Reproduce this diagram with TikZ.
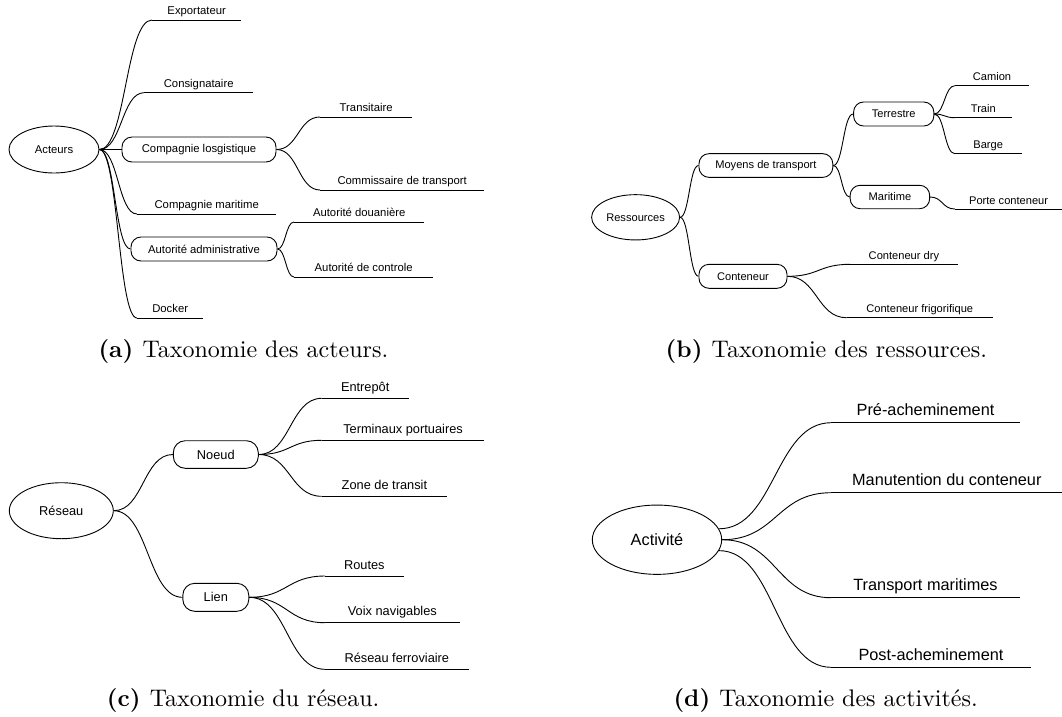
\documentclass[tikz,border=0pt]{standalone}
\usepackage{fontspec}
\newfontfamily\arial{Liberation Sans}
\newfontfamily\capfont[BoldFont=lmroman10-bold.otf]{lmroman10-regular.otf}
\usetikzlibrary{shapes.geometric,calc}
\begin{document}
\begin{tikzpicture}[x=1pt,y=-1pt,
  ln/.style={line width=0.9pt, draw=black},
  ell/.style={ellipse, draw, line width=0.9pt, inner sep=0pt},
  box/.style={draw, rounded corners=10pt, line width=0.9pt, inner sep=0pt},
  leaf/.style={anchor=south west, inner sep=0pt, text depth=#1},
  conn/.style={ln, to path={.. controls ($(\tikztostart)!0.5!(\tikztotarget|-\tikztostart)$) and ($(\tikztotarget)!0.5!(\tikztostart|-\tikztotarget)$) .. (\tikztotarget)}},
  fa/.style={font=\arial\fontsize{11.3}{13}\selectfont},
  fb/.style={font=\arial\fontsize{11.1}{13}\selectfont},
  fc/.style={font=\arial\fontsize{12.8}{15}\selectfont},
  fd/.style={font=\arial\fontsize{16.3}{19}\selectfont},
  capt/.style={anchor=base west, inner sep=0pt, font=\capfont\fontsize{24}{28}\selectfont}
]
\path[fill=white] (0,0) rectangle (1062,716);
\useasboundingbox (0,0) rectangle (1062,716);

% ---------- (a) Acteurs ----------
\begin{scope}[fa]
\node[ell, minimum width=90pt, minimum height=47pt] (act) at (54,149.5) {Acteurs};
\node[box, minimum width=154pt, minimum height=25pt] (cl) at (199,149.5) {Compagnie losgistique};
\node[box, minimum width=146pt, minimum height=24pt] (aa) at (204,249) {Autorité administrative};
\node[leaf=5pt, minimum width=89pt] (exp) at (152,20) {Exportateur};
\node[leaf=5pt, minimum width=109pt] (cons) at (144,92.7) {Consignataire};
\node[leaf=5pt, minimum width=92pt] (tra) at (320,117) {Transitaire};
\node[leaf=5pt, minimum width=164pt] (com) at (320,190) {Commissaire de transport};
\node[leaf=5pt, minimum width=139pt] (cm) at (137,214) {Compagnie maritime};
\node[leaf=5pt, minimum width=130pt] (ad) at (294,222) {Autorité douanière};
\node[leaf=5pt, minimum width=139pt] (ac) at (294,277) {Autorité de controle};
\node[leaf=5pt, minimum width=66pt] (dock) at (137,318) {Docker};
\end{scope}
\draw[conn] (act.east) to (exp.south west);
\draw[conn] (act.east) to (cons.south west);
\draw[conn] (act.east) to (cl.west);
\draw[conn] (act.east) to (cm.south west);
\draw[conn] (act.east) to (aa.west);
\draw[conn] (act.east) to (dock.south west);
\draw[conn] (cl.east) to (tra.south west);
\draw[conn] (cl.east) to (com.south west);
\draw[conn] (aa.east) to (ad.south west);
\draw[conn] (aa.east) to (ac.south west);

% ---------- (b) Ressources ----------
\begin{scope}[fb]
\node[ell, minimum width=88pt, minimum height=45.3pt] (res) at (635.6,217.3) {Ressources};
\node[box, minimum width=133.8pt, minimum height=23.7pt] (moy) at (765.9,165.5) {Moyens de transport};
\node[box, minimum width=88pt, minimum height=24pt] (cont) at (743,276.3) {Conteneur};
\node[box, minimum width=80.2pt, minimum height=24pt] (ter) at (893.7,114) {Terrestre};
\node[box, minimum width=79.5pt, minimum height=23.4pt] (mar) at (889.9,197) {Maritime};
\node[leaf=4.7pt, minimum width=74pt] (cam) at (954.8,85.7) {Camion};
\node[leaf=4.7pt, minimum width=56.7pt] (train) at (954.8,117.7) {Train};
\node[leaf=4.7pt, minimum width=66.4pt] (barge) at (954.8,153.7) {Barge};
\node[leaf=4.7pt, minimum width=107.2pt] (porte) at (954.8,209) {Porte conteneur};
\node[leaf=4.7pt, minimum width=107.2pt] (dry) at (850.1,264.3) {Conteneur dry};
\node[leaf=4.7pt, minimum width=145.9pt] (frig) at (846.6,317.7) {Conteneur frigorifique};
\end{scope}
\draw[conn] (res.east) to (moy.west);
\draw[conn] (res.east) to (cont.west);
\draw[conn] (moy.east) to (ter.west);
\draw[conn] (moy.east) to (mar.west);
\draw[conn] (ter.east) to (cam.south west);
\draw[conn] (ter.east) to (train.south west);
\draw[conn] (ter.east) to (barge.south west);
\draw[conn] (mar.east) to (porte.south west);
\draw[conn] (cont.east) to (dry.south west);
\draw[conn] (cont.east) to (frig.south west);

% ---------- (c) Reseau ----------
\begin{scope}[fc]
\node[ell, minimum width=104pt, minimum height=56pt] (resx) at (61.3,510.7) {Réseau};
\node[box, rounded corners=12pt, minimum width=85pt, minimum height=27.6pt] (noeud) at (215.8,454.5) {Noeud};
\node[box, rounded corners=12pt, minimum width=66pt, minimum height=28pt] (lien) at (215.8,597.3) {Lien};
\node[leaf=6.6pt, minimum width=86.6pt] (ent) at (321.7,398.3) {Entrepôt};
\node[leaf=6.6pt, minimum width=162.3pt] (term) at (321.7,440.3) {Terminaux portuaires};
\node[leaf=6.6pt, minimum width=125pt] (zone) at (321.7,496.3) {Zone de transit};
\node[leaf=6.6pt, minimum width=78.3pt] (rou) at (325,576) {Routes};
\node[leaf=6.6pt, minimum width=134.3pt] (voix) at (325,622.7) {Voix navigables};
\node[leaf=6.6pt, minimum width=143.3pt] (fer) at (325,669.3) {Réseau ferroviaire};
\end{scope}
\draw[conn] (resx.east) to (noeud.west);
\draw[conn] (resx.east) to (lien.west);
\draw[conn] (noeud.east) to (ent.south west);
\draw[conn] (noeud.east) to (term.south west);
\draw[conn] (noeud.east) to (zone.south west);
\draw[conn] (lien.east) to (rou.south west);
\draw[conn] (lien.east) to (voix.south west);
\draw[conn] (lien.east) to (fer.south west);

% ---------- (d) Activite ----------
\begin{scope}[fd]
\node[ell, minimum width=129.4pt, minimum height=69.3pt] (actv) at (657,539.7) {Activité};
\node[leaf=6.7pt, minimum width=188.4pt] (pre) at (831.1,422.7) {Pré-acheminement};
\node[leaf=6.7pt, minimum width=231pt] (man) at (831.1,492.7) {Manutention du conteneur};
\node[leaf=6.7pt, minimum width=188.4pt] (tm) at (831.1,597.7) {Transport maritimes};
\node[leaf=6.7pt, minimum width=199.4pt] (post) at (831.1,667.3) {Post-acheminement};
\end{scope}
\draw[conn] (actv.10) to (pre.south west);
\draw[conn] (actv.east) to (man.south west);
\draw[conn] (actv.east) to (tm.south west);
\draw[conn] (actv.-10) to (post.south west);

% underlines of the leaf nodes
\foreach \n in {exp,cons,tra,com,cm,ad,ac,dock,cam,train,barge,porte,dry,frig,ent,term,zone,rou,voix,fer,pre,man,tm,post}
  \draw[ln] (\n.south west) -- (\n.south east);

% ---------- captions ----------
\node[capt] (capa) at (98.3,357.3) {\textbf{(a) }Taxonomie des acteurs.};
\node[capt] (capb) at (665.5,357.3) {\textbf{(b) }Taxonomie des ressources.};
\node[capt] (capc) at (106.7,706.7) {\textbf{(c) }Taxonomie du réseau.};
\node[capt] (capd) at (673.3,706.7) {\textbf{(d) }Taxonomie des activités.};
\end{tikzpicture}
\end{document}
